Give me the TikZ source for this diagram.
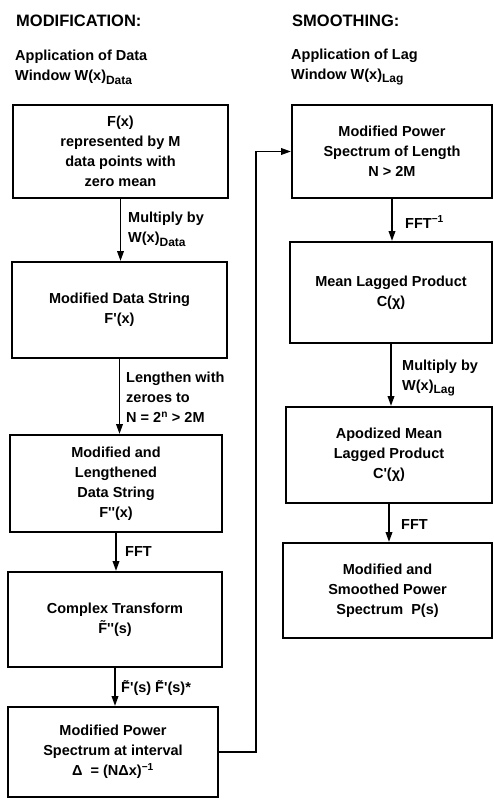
\documentclass[tikz,border=0pt]{standalone}
\usepackage{fontspec}
\setmainfont{Liberation Sans}
\usepackage{tikz}
\usetikzlibrary{positioning,arrows.meta}
\newcommand{\lowsub}[1]{\raisebox{-0.5ex}{\fontsize{12}{12}\selectfont #1}}
\newcommand{\bodyfont}{\fontsize{14.5}{20}\selectfont\bfseries}
\newcommand{\pr}{\textquotesingle}

\begin{document}
\begin{tikzpicture}[x=1pt,y=-1pt,
    box/.style={draw, line width=1.9pt, align=center, inner sep=0pt, font=\bodyfont},
    flow/.style={-{Triangle[length=10pt,width=6.5pt]}, line width=1.9pt},
    lbl/.style={anchor=west, align=left, inner sep=0pt, font=\bodyfont},
    head/.style={anchor=west, inner sep=0pt, font=\fontsize{16.5}{18}\selectfont\bfseries}]
                    \useasboundingbox (0,0) rectangle (494,800);

                    % Headings
                    \node[head] (modhead) at (16,21) {MODIFICATION:};
                    \node[lbl] (modsub) at (15,67) {Application of Data\\Window W(x)\lowsub{Data}};
                    \node[head] (smohead) at (292,21) {SMOOTHING:};
                    \node[lbl] (smosub) at (291,67) {Application of Lag\\Window W(x)\lowsub{Lag}};

                    % Modification column
                    \node[box, minimum width=215, minimum height=93] (fx) at (120.5,151.5) {F(x)\\represented by M\\data points with\\zero mean};
                    \node[box, minimum width=215, minimum height=96] (fprime) at (119.5,310) {Modified Data String\\F\pr(x)};
                    \node[box, minimum width=212, minimum height=97] (fdprime) at (116,483.5) {Modified and\\Lengthened\\Data String\\F\pr\pr(x)};
                    \node[box, minimum width=214, minimum height=95] (ctrans) at (115,619.5) {Complex Transform\\\~{F}\pr\pr(s)};
                    \node[box, minimum width=210, minimum height=90] (modps) at (113,752) {Modified Power\\Spectrum at interval\\Δ\ \ = (NΔx)\textsuperscript{−1}};

                    \draw[flow] (fx.south) -- (fx.south |- fprime.north);
                    \draw[flow] (fprime.south) -- (fprime.south |- fdprime.north);
                    \draw[flow] (fdprime.south) -- (fdprime.south |- ctrans.north);
                    \draw[flow] (ctrans.south) -- (ctrans.south |- modps.north);

                    \node[lbl] (mult1) at (128,229) {Multiply by\\W(x)\lowsub{Data}};
                    \node[lbl] (lengthen) at (126,397) {Lengthen with\\zeroes to\\N = 2\textsuperscript{n} > 2M};
                    \node[lbl] (fft1) at (125,552) {FFT};
                    \node[lbl] (conj) at (121,688) {\~{F}\pr(s) \~{F}\pr(s)*};

                    % Smoothing column
                    \node[box, minimum width=200, minimum height=93] (modpsn) at (392,151.5) {Modified Power\\Spectrum of Length\\N > 2M};
                    \node[box, minimum width=202, minimum height=101] (mlp) at (391,292.5) {Mean Lagged Product\\C(χ)};
                    \node[box, minimum width=206, minimum height=96] (apod) at (389,455) {Apodized Mean\\Lagged Product\\C\pr(χ)};
                    \node[box, minimum width=209, minimum height=95] (smooth) at (387.5,590.5) {Modified and\\Smoothed Power\\Spectrum\ \ P(s)};

                    \draw[flow] (modpsn.south) -- (modpsn.south |- mlp.north);
                    \draw[flow] (mlp.south) -- (mlp.south |- apod.north);
                    \draw[flow] (apod.south) -- (apod.south |- smooth.north);

                    \node[lbl] (ifft) at (405,222) {FFT\textsuperscript{−1}};
                    \node[lbl] (mult2) at (402,378) {Multiply by\\W(x)\lowsub{Lag}};
                    \node[lbl] (fft2) at (401,525) {FFT};

                    % Link between columns
                    \draw[flow] (modps.east) -- ++(37,0) |- (modpsn.west);
                \end{tikzpicture}
\end{document}
